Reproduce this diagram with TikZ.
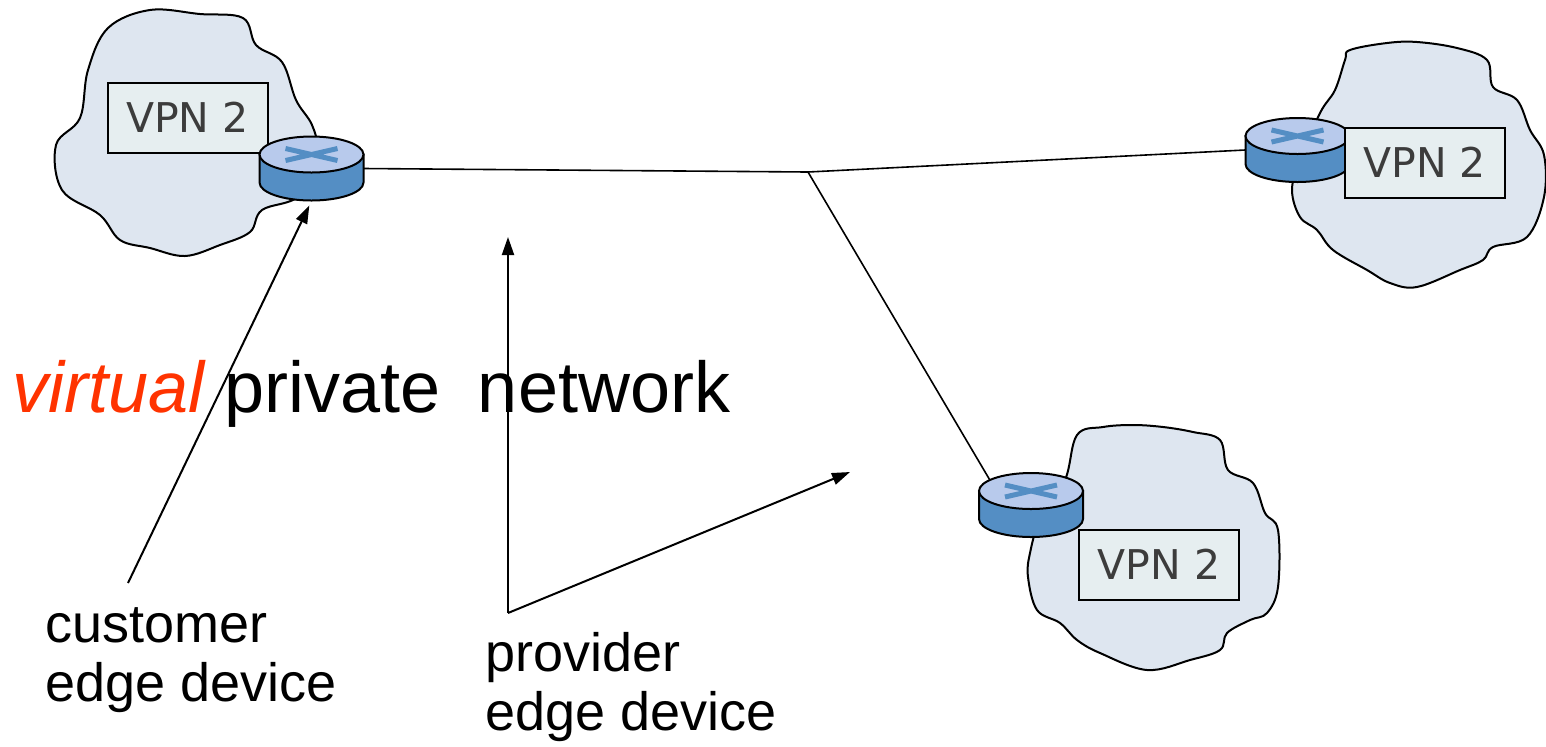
\documentclass[tikz,border=0pt]{standalone}
\usepackage{fontspec}
\setmainfont{Liberation Sans}
\newfontfamily\boxfont{DejaVu Sans}
\usetikzlibrary{arrows.meta,calc}
\definecolor{cloudfill}{RGB}{222,230,240}
\definecolor{boxfill}{RGB}{230,238,240}
\definecolor{routerbody}{RGB}{84,142,196}
\definecolor{routertop}{RGB}{184,202,236}
\definecolor{vpnred}{RGB}{255,51,0}
\definecolor{boxtext}{RGB}{60,60,60}

\begin{document}
\begin{tikzpicture}[x=0.5pt,y=-0.5pt,
    cloud line/.style={draw=black,line width=1pt,fill=cloudfill},
    vpn node/.style={rectangle,draw,line width=1pt,fill=boxfill,minimum width=80pt,minimum height=35pt,
                     inner sep=0pt,text=boxtext,font=\boxfont\fontsize{20.5}{24}\selectfont},
    router node/.style={rectangle,minimum width=52pt,minimum height=32pt,inner sep=0pt},
    router line/.style={draw=black,line width=1pt},
    label node/.style={align=left,inner sep=0pt,anchor=north west,font=\fontsize{27}{29.5}\selectfont},
    link/.style={line width=0.8pt},
    pointer/.style={line width=1pt,-{Triangle[length=9pt,width=6pt]}}]

  \useasboundingbox (0,0) rectangle (1546,746);

  \filldraw[cloud line] plot[smooth cycle,tension=0.6] coordinates {
    (150,10) (200,14) (243,18) (256,45) (282,62) (296,100) (312,125) (316,150) (300,195)
    (262,210) (250,232) (220,245) (185,256) (150,248) (120,240) (100,215) (62,190)
    (56,145) (80,118) (88,70) (108,28)};
  \filldraw[cloud line] plot[smooth cycle,tension=0.6] coordinates {
    (1350,50) (1387,43) (1417,42) (1457,48) (1487,60) (1493,87) (1517,100) (1530,130)
    (1544,155) (1544,197) (1527,237) (1493,247) (1483,260) (1460,270) (1417,287) (1390,283)
    (1367,270) (1333,250) (1317,230) (1300,217) (1292,190) (1300,160) (1320,113) (1335,90) (1345,60)};
  \filldraw[cloud line] plot[smooth cycle,tension=0.6] coordinates {
    (1077,435) (1103,427) (1133,425) (1163,427) (1193,432) (1220,440) (1228,470) (1253,483)
    (1265,513) (1278,530) (1278,587) (1267,613) (1250,620) (1227,633) (1220,650) (1190,660)
    (1147,670) (1100,653) (1077,640) (1060,623) (1037,610) (1028,577) (1030,553) (1040,520) (1065,480)};

  \node[vpn node] (lv) at (187.5,117.5) {VPN 2};
  \node[router node] (lr) at (311.5,168.5) {};
  \node[router node] (rr) at (1297.5,150) {};
  \node[router node] (br) at (1031,505) {};

  \coordinate (hub) at (808,172);
  \path[link]
    (lr.east) edge (hub)
    (hub) edge (rr.west)
    (hub) edge ([xshift=5.5pt,yshift=-3.5pt]br.north west);

  \foreach \r in {lr,rr,br}{
    \filldraw[router line,fill=routerbody] ($(\r.center)+(-52,-14)$) -- ($(\r.center)+(-52,14)$)
      arc[start angle=180,end angle=360,x radius=26pt,y radius=9pt] -- ($(\r.center)+(52,-14)$) -- cycle;
    \filldraw[router line,fill=routertop] ($(\r.center)+(0,-14)$) ellipse[x radius=26pt,y radius=9pt];
    \draw[routerbody,line width=2.5pt] ($(\r.center)+(-26,-20)$) -- ($(\r.center)+(26,-8)$)
                                       ($(\r.center)+(-26,-8)$) -- ($(\r.center)+(26,-20)$);
  }

  \node[vpn node] (rv) at (1424.5,162.5) {VPN 2};
  \node[vpn node] (bv) at (1159,564.5) {VPN 2};

  \node[anchor=base west,inner sep=0pt,font=\fontsize{36}{40}\selectfont] (title) at (12,412)
    {\textcolor{vpnred}{\itshape virtual} private\hspace{0.52em}network};

  \node[label node] (cust) at (45,607) {customer\\edge device};
  \node[label node] (prov) at (485,632) {provider\\edge device};

  \coordinate (cetail) at (128,583);
  \coordinate (petail) at (508,613);
  \coordinate (peup) at (508,237);
  \coordinate (peright) at (850,472);

  \draw[pointer,shorten >=2.5pt] (cetail) -- (lr.south);
  \draw[pointer] (petail) -- (peup);
  \draw[pointer] (petail) -- (peright);
\end{tikzpicture}
\end{document}
